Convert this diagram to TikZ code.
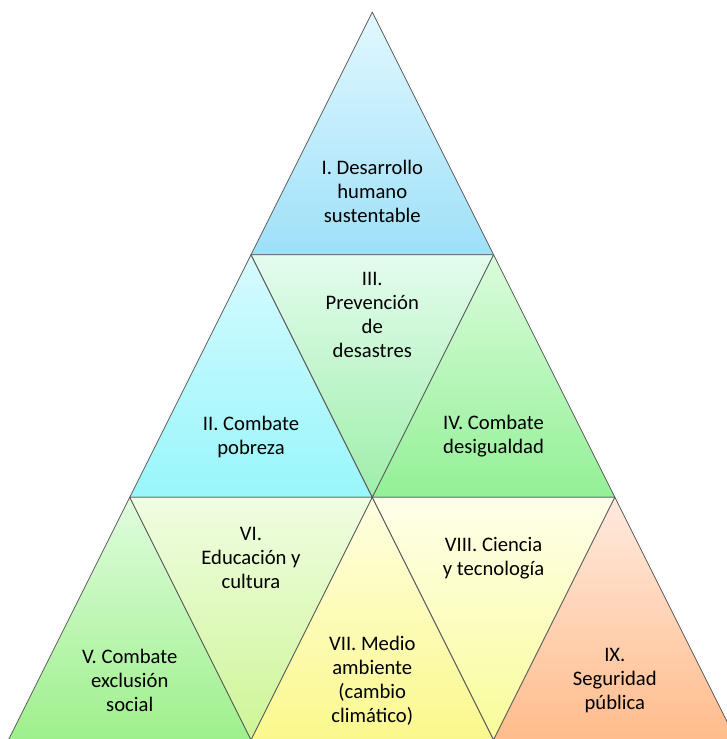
\documentclass[tikz,border=0pt]{standalone}
\usepackage{fontspec}
\setmainfont{Carlito}
\usepackage{tikz}
\definecolor{edge_gray}{RGB}{90,90,90}
\definecolor{sky_top}{RGB}{226,248,255}
\definecolor{sky_bottom}{RGB}{158,224,248}
\definecolor{aqua_top}{RGB}{214,250,255}
\definecolor{aqua_bottom}{RGB}{152,246,250}
\definecolor{mint_top}{RGB}{228,252,238}
\definecolor{mint_bottom}{RGB}{158,238,170}
\definecolor{green_top}{RGB}{218,252,220}
\definecolor{green_bottom}{RGB}{148,240,150}
\definecolor{leaf_top}{RGB}{224,252,222}
\definecolor{leaf_bottom}{RGB}{158,240,140}
\definecolor{lime_top}{RGB}{240,253,226}
\definecolor{lime_bottom}{RGB}{206,245,150}
\definecolor{lemon_top}{RGB}{255,255,226}
\definecolor{lemon_bottom}{RGB}{250,248,140}
\definecolor{cream_top}{RGB}{255,255,234}
\definecolor{cream_bottom}{RGB}{248,252,152}
\definecolor{peach_top}{RGB}{255,234,222}
\definecolor{peach_bottom}{RGB}{255,188,140}

\begin{document}
\begin{tikzpicture}[x=6.4cm,y=6.4cm,
	tri/.style={draw=edge_gray,line width=0.6pt,line join=round},
	txt/.style={align=center,text=black,font=\fontsize{15.5}{18}\selectfont}]
	\useasboundingbox (-1.535,0.003) rectangle (1.461,3.05);

	% triangles pointing up: apex x/y and colours
	\foreach \x/\y/\c in {0/3/sky,-0.5/2/aqua,0.5/2/green,-1/1/leaf,0/1/lemon,1/1/peach}
		\shade[tri,top color=\c_top,bottom color=\c_bottom] (\x,\y) -- ++(-0.5,-1) -- ++(1,0) -- cycle;
	% triangles pointing down: top middle x/y and colours
	\foreach \x/\y/\c in {0/2/mint,-0.5/1/lime,0.5/1/cream}
		\shade[tri,top color=\c_top,bottom color=\c_bottom] (\x-0.5,\y) -- ++(1,0) -- ++(-0.5,-1) -- cycle;

	\node[txt] (1) at (0,2.26) {I. Desarrollo\\humano\\sustentable};
	\node[txt] (2) at (-0.5,1.25) {II. Combate\\pobreza};
	\node[txt] (3) at (0,1.75) {III.\\Prevención\\de\\desastres};
	\node[txt] (4) at (0.5,1.25) {IV. Combate\\desigualdad};
	\node[txt] (5) at (-1,0.245) {V. Combate\\exclusión\\social};
	\node[txt] (6) at (-0.5,0.75) {VI.\\Educación y\\cultura};
	\node[txt] (7) at (0,0.245) {VII. Medio\\ambiente\\(cambio\\climático)};
	\node[txt] (8) at (0.5,0.75) {VIII. Ciencia\\y tecnología};
	\node[txt] (9) at (1,0.245) {IX.\\Seguridad\\pública};
\end{tikzpicture}
\end{document}
